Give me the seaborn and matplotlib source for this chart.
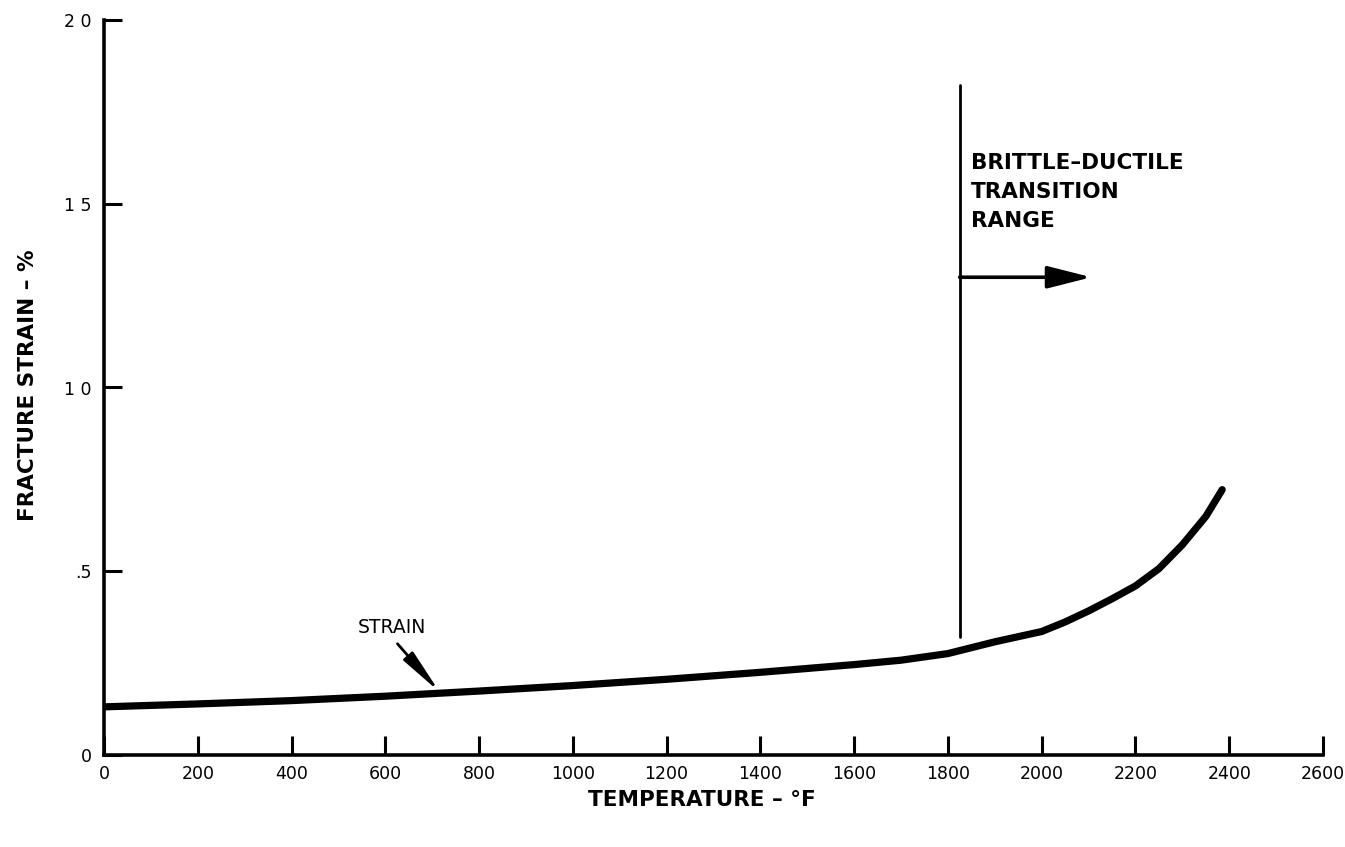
import matplotlib
matplotlib.use("Agg")
import matplotlib.pyplot as plt
import seaborn as sns
import pandas as pd

# Data
temperature_f = [0, 200, 400, 600, 800, 1000, 1200, 1400, 1600, 1700, 1800, 1900,
                 2000, 2050, 2100, 2150, 2200, 2250, 2300, 2350, 2385]
fracture_strain = [0.131, 0.139, 0.148, 0.160, 0.174, 0.189, 0.206, 0.225, 0.246, 0.258,
                   0.276, 0.308, 0.336, 0.362, 0.392, 0.425, 0.460, 0.507, 0.572, 0.649,
                   0.722]

x_ticks = [0, 200, 400, 600, 800, 1000, 1200, 1400, 1600, 1800, 2000, 2200, 2400, 2600]
x_tick_labels = ["0", "200", "400", "600", "800", "1000", "1200", "1400", "1600",
                 "1800", "2000", "2200", "2400", "2600"]
y_ticks = [0, 0.5, 1.0, 1.5, 2.0]
y_tick_labels = ["0", ".5", "1 0", "1 5", "2 0"]

transition_temp = 1825
transition_span = [0.322, 1.823]
arrow_y = 1.30
arrow_end = 2106

df = pd.DataFrame({"Temperature": temperature_f, "Strain": fracture_strain})

sns.set_theme(style="white")
plt.rcParams["font.family"] = ["DejaVu Sans"]

fig = plt.figure(figsize=(13.45, 8.47), dpi=100)
ax = fig.add_axes([104 / 1345, 1 - 755 / 847, (1323 - 104) / 1345, (755 - 20) / 847])

sns.lineplot(data=df, x="Temperature", y="Strain", ax=ax, color="black",
             linewidth=5.2, solid_capstyle="round", solid_joinstyle="round")

ax.set_xlim(0, 2600)
ax.set_ylim(0, 2.0)

for side in ["top", "right"]:
    ax.spines[side].set_visible(False)
for side in ["left", "bottom"]:
    ax.spines[side].set_color("black")
    ax.spines[side].set_linewidth(2.6)

ax.set_xticks(x_ticks)
ax.set_xticklabels(x_tick_labels)
ax.set_yticks(y_ticks)
ax.set_yticklabels(y_tick_labels)
ax.tick_params(axis="x", direction="in", length=14, width=2.2, color="black",
               labelsize=12.5, pad=7, bottom=True)
ax.tick_params(axis="y", direction="in", length=13, width=2.2, color="black",
               labelsize=12.5, pad=9, left=True)
for t in ax.get_xticklabels() + ax.get_yticklabels():
    t.set_color("black")

ax.set_xlabel("TEMPERATURE – °F", fontsize=15.5, fontweight="bold", color="black")
ax.set_ylabel("FRACTURE STRAIN – %", fontsize=15.5, fontweight="bold", color="black")
ax.xaxis.set_label_coords((702 - 104) / 1219, -0.048)
ax.yaxis.set_label_coords(-0.054, 0.503)

# Transition line and arrow
ax.plot([transition_temp, transition_temp], transition_span, color="black", linewidth=2.0)
ax.annotate("", xy=(arrow_end, arrow_y), xytext=(transition_temp, arrow_y),
            arrowprops=dict(arrowstyle="-|>,head_length=1.5,head_width=0.38",
                            color="black", lw=2.6, mutation_scale=18,
                            shrinkA=0, shrinkB=0))
ax.text(1850, 1.638, "BRITTLE–DUCTILE\nTRANSITION\nRANGE", fontsize=15.5,
        fontweight="bold", color="black", ha="left", va="top", linespacing=1.55)

# Strain label with arrow
ax.annotate("STRAIN", xy=(716, 0.171), xytext=(614, 0.346), fontsize=13.5,
            color="black", ha="center", va="center",
            arrowprops=dict(arrowstyle="-|>,head_length=1.8,head_width=0.25",
                            color="black", lw=2.0, mutation_scale=15,
                            relpos=(0.5, 0.0), shrinkA=3, shrinkB=0))

fig.savefig("out.png", dpi=100, facecolor="white")
